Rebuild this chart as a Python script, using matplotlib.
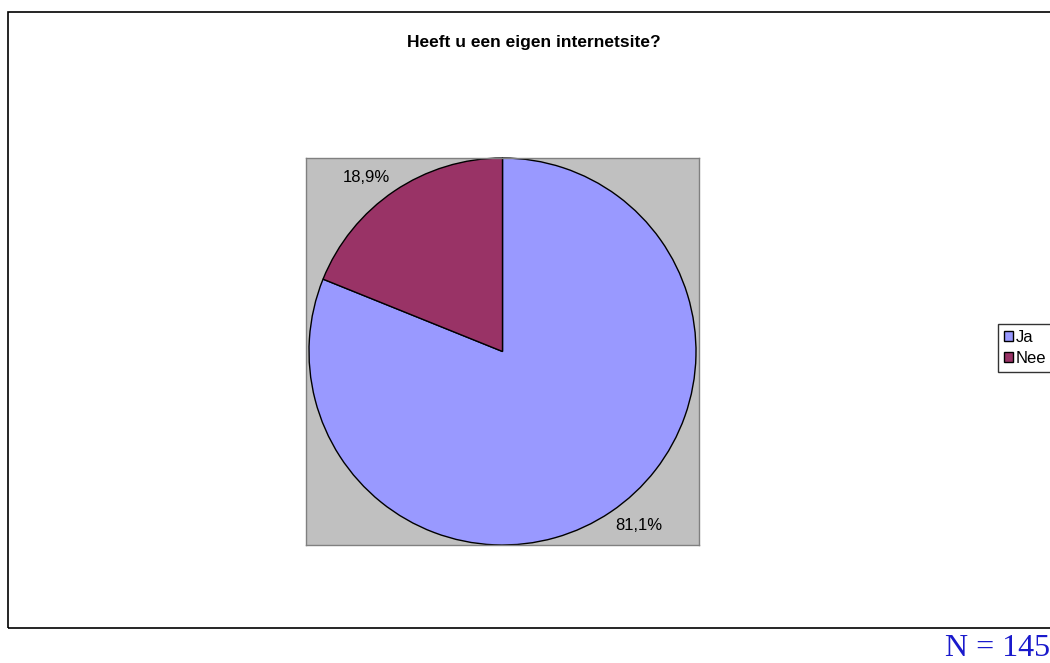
import numpy as np
import matplotlib.pyplot as plt
from matplotlib.patches import Rectangle

# data
labels = ['Ja', 'Nee']
values = [81.1, 18.9]
colors = ['#9999FF', '#993366']
title = 'Heeft u een eigen internetsite?'
note = 'N = 145'

plt.rcParams['font.family'] = ['Liberation Sans', 'DejaVu Sans']

fig = plt.figure(figsize=(10.5, 6.63), dpi=100)
W, H = 1050, 663

# chart frame (right side runs off the image)
frame = Rectangle((8 / W, 1 - 628 / H), 1.1, (628 - 12) / H, transform=fig.transFigure,
                  fill=False, edgecolor='black', linewidth=1.2, clip_on=False)
fig.patches.append(frame)

ax = fig.add_axes([306 / W, 1 - 545 / H, 393 / W, 387 / H])
wedges, _ = ax.pie(values, colors=colors, startangle=90, counterclock=False,
                   wedgeprops=dict(edgecolor='black', linewidth=1))
ax.set_frame_on(True)
ax.set_facecolor('#C0C0C0')
ax.set_aspect('equal', adjustable='datalim')
ax.set_xlim(-1, 1)
ax.set_ylim(-1, 1)
for s in ax.spines.values():
    s.set_visible(True)
    s.set_color('#808080')
    s.set_linewidth(1)
ax.set_xticks([])
ax.set_yticks([])

# percentage labels: corner of the text touches the rim at the wedge middle
total = sum(values)
for w, v in zip(wedges, values):
    ang = np.deg2rad((w.theta1 + w.theta2) / 2)
    x, y = 1.04 * np.cos(ang), 1.04 * np.sin(ang)
    ha = 'left' if x > 0 else 'right'
    va = 'top' if y < 0 else 'bottom'
    ax.text(x, y, f'{100 * v / total:.1f}%'.replace('.', ','), ha=ha, va=va,
            fontsize=12, clip_on=False)

fig.text(534 / W, 1 - 42 / H, title, ha='center', va='center', fontsize=12.5,
         fontweight='bold')

leg = fig.legend(wedges, labels, loc='upper left', bbox_to_anchor=(998 / W, 1 - 324 / H),
                 frameon=True, fancybox=False, edgecolor='black', fontsize=12,
                 handlelength=0.55, handleheight=0.55, handletextpad=0.15,
                 borderpad=0.35, labelspacing=0.35, borderaxespad=0)
leg.get_frame().set_linewidth(1)

fig.text(945 / W, 1 - 648 / H, note, ha='left', va='center', fontsize=23,
         family='Liberation Serif', color='#1a1acc')

fig.savefig('out.png', dpi=100)
